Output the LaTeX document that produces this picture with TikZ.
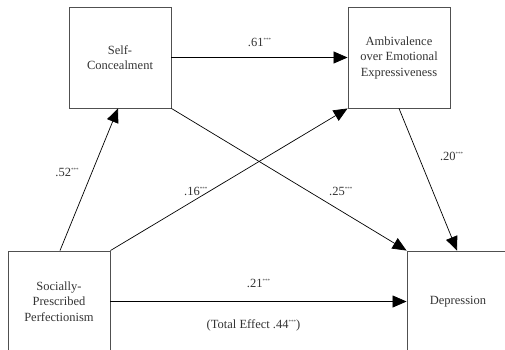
\documentclass[tikz,border=0pt]{standalone}
\usepackage{fontspec}
\setmainfont{Liberation Serif}
\usepackage{tikz}
\usetikzlibrary{arrows.meta, positioning}
\usepackage{xcolor}
\definecolor{textgray}{HTML}{333333}
\definecolor{boxgray}{HTML}{505050}
\newcommand{\sig}[1]{#1\raisebox{0.9ex}{\fontsize{5}{5}\selectfont ***}}
\tikzstyle{var} = [
    rectangle, minimum width=102pt, minimum height=101pt, inner sep=0pt,
    align=center, draw=boxgray, line width=0.9pt, text=textgray,
    font=\fontsize{12.5}{15.5}\selectfont
]
\tikzstyle{coef} = [inner sep=1pt, text=textgray, font=\fontsize{12.5}{15}\selectfont]
\tikzstyle{arrow} = [-{Triangle[length=14pt,width=12pt]}, line width=0.7pt]

\begin{document}
\begin{tikzpicture}[x=1pt, y=-1pt]
    \useasboundingbox (0,0) rectangle (505,349);
    \clip (0,0) rectangle (505,349);
    % Nodes
    \node[var] (conceal) at (120,57.5) {Self-\\Concealment};
    \node[var] (ambiv) at (399,57.5) {Ambivalence\\over Emotional\\Expressiveness};
    \node[var] (spp) at (59,301.5) {Socially-\\Prescribed\\Perfectionism};
    \node[var] (depr) at (458,301.5) {Depression};
    % Arrows
    \draw[arrow] (conceal) -- node[coef, above=9pt]{\sig{.61}} (ambiv);
    \draw[arrow] ([xshift=1pt]spp.north) -- node[coef, pos=0.55, left=12pt]{\sig{.52}} ([xshift=-2pt]conceal.south);
    \draw[arrow] (spp.north east) -- node[coef, pos=0.36, above=2pt]{\sig{.16}} (ambiv.south west);
    \draw[arrow] (conceal.south east) -- node[coef, pos=0.72, above=14pt]{\sig{.25}} (depr.north west);
    \draw[arrow] (ambiv.south) -- node[coef, pos=0.34, right=20pt]{\sig{.20}} ([xshift=-1pt]depr.north);
    \draw[arrow] (spp) -- node[coef, above=12pt]{\sig{.21}}
        node[coef, below=17pt, xshift=-5pt]{(Total Effect \sig{.44})} (depr);
\end{tikzpicture}
\end{document}
